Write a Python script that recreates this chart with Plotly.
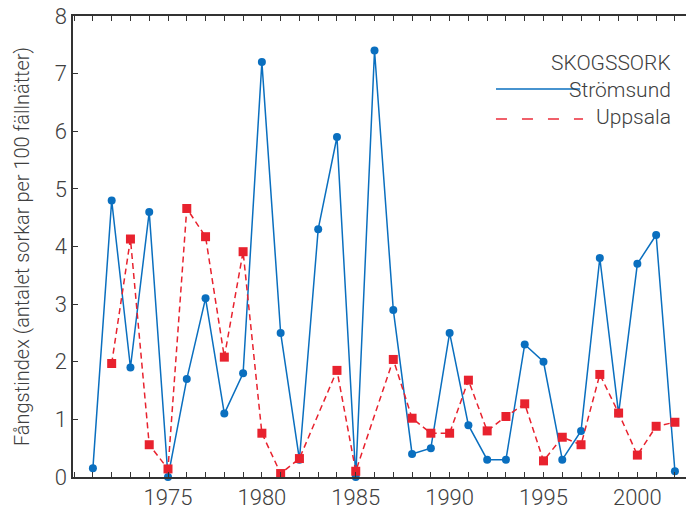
import plotly.graph_objects as go

years_s = list(range(1971, 2003))
stromsund = [0.15, 4.8, 1.9, 4.6, 0.0, 1.7, 3.1, 1.1, 1.8, 7.2,
             2.5, 0.3, 4.3, 5.9, 0.0, 7.4, 2.9, 0.4, 0.5, 2.5,
             0.9, 0.3, 0.3, 2.3, 2.0, 0.3, 0.8, 3.8, 1.1, 3.7,
             4.2, 0.1]

years_u = [1972, 1973, 1974, 1975, 1976, 1977, 1978, 1979, 1980, 1981,
           1982, 1984, 1985, 1987, 1988, 1989, 1990, 1991, 1992, 1993,
           1994, 1995, 1996, 1997, 1998, 1999, 2000, 2001, 2002]
uppsala = [1.97, 4.13, 0.56, 0.14, 4.66, 4.17, 2.08, 3.91, 0.76, 0.06,
           0.32, 1.85, 0.1, 2.04, 1.02, 0.76, 0.76, 1.68, 0.80, 1.05,
           1.27, 0.28, 0.69, 0.56, 1.78, 1.11, 0.38, 0.88, 0.95]

x_ticks = [1975, 1980, 1985, 1990, 1995, 2000]
y_ticks = [0, 1, 2, 3, 4, 5, 6, 7, 8]

BLUE = "#0a6fbf"
RED = "#e8222e"
TXT = "#404040"
FONT = "Roboto"

fig = go.Figure()
fig.add_trace(go.Scatter(
    x=years_s, y=stromsund, mode="lines+markers", name="Strömsund",
    line=dict(color=BLUE, width=1.5),
    marker=dict(symbol="circle", size=8, color=BLUE),
    cliponaxis=False, showlegend=False))
fig.add_trace(go.Scatter(
    x=years_u, y=uppsala, mode="lines+markers", name="Uppsala",
    line=dict(color=RED, width=1.5, dash="6px,4px"),
    marker=dict(symbol="square", size=9, color=RED),
    cliponaxis=False, showlegend=False))

fig.update_layout(
    width=686, height=511,
    margin=dict(l=73, r=0, t=16, b=34),
    paper_bgcolor="white", plot_bgcolor="white",
    font=dict(family=FONT, color=TXT, size=22, weight=300),
    xaxis=dict(
        range=[1969.94, 2002.59], tickmode="array", tickvals=x_ticks,
        ticks="inside", ticklen=5, tickwidth=1, tickcolor="#333",
        showline=True, linecolor="#333", linewidth=1.5, mirror="ticks",
        showgrid=False, zeroline=False,
        tickfont=dict(size=22, color=TXT),
        minor=dict(dtick=1, tick0=1970, ticks="inside", ticklen=5,
                   tickwidth=1, tickcolor="#333", showgrid=False),
    ),
    yaxis=dict(
        range=[0, 8], tickmode="array", tickvals=y_ticks,
        ticks="inside", ticklen=5, tickwidth=1, tickcolor="#333",
        showline=True, linecolor="#333", linewidth=1.5,
        showgrid=False, zeroline=False,
        tickfont=dict(size=22, color=TXT),
        title=dict(text="Fångstindex (antalet sorkar per 100 fällnätter)",
                   font=dict(size=20, color=TXT), standoff=20),
    ),
)

# legend drawn manually (title + line samples)
fig.add_annotation(xref="paper", yref="paper", x=0.9788, y=0.898,
                   text="SKOGSSORK", showarrow=False, xanchor="right",
                   yanchor="middle", font=dict(size=21, color=TXT))
fig.add_shape(type="line", xref="paper", yref="paper",
              x0=0.690, x1=0.827, y0=0.8417, y1=0.8417,
              line=dict(color=BLUE, width=1.5))
fig.add_annotation(xref="paper", yref="paper", x=0.9788, y=0.8395,
                   text="Strömsund", showarrow=False, xanchor="right",
                   yanchor="middle", font=dict(size=21, color=TXT))
fig.add_shape(type="line", xref="paper", yref="paper",
              x0=0.690, x1=0.832, y0=0.7766, y1=0.7766,
              line=dict(color="#f0606a", width=2, dash="11px,15px"))
fig.add_annotation(xref="paper", yref="paper", x=0.9788, y=0.781,
                   text="Uppsala", showarrow=False, xanchor="right",
                   yanchor="middle", font=dict(size=21, color=TXT))

fig.write_html("out.html", config={"displayModeBar": False},
               post_script="document.body.style.margin='0';document.body.style.overflow='hidden';")
